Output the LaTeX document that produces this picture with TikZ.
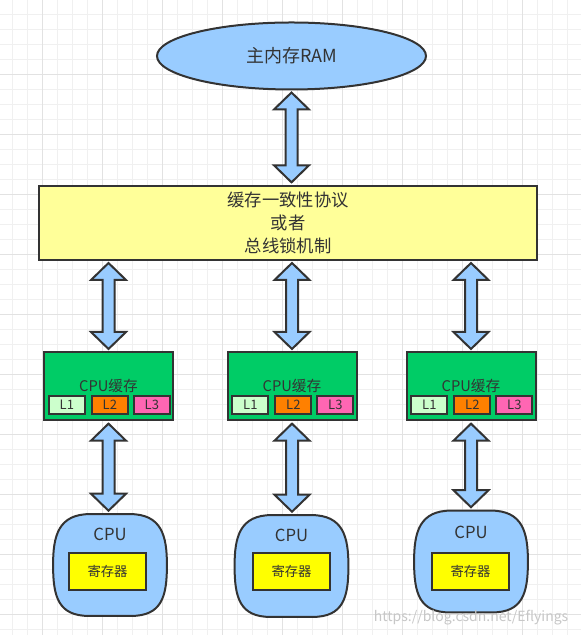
\documentclass[tikz,border=0pt]{standalone}
\usepackage{fontspec}
\setmainfont{Noto Sans CJK SC}
\usetikzlibrary{positioning,calc,shapes.geometric}

\definecolor{lineGray}{HTML}{333333}
\definecolor{gridMinor}{HTML}{F0F0F0}
\definecolor{gridMajor}{HTML}{E2E2E2}
\definecolor{skyBlue}{HTML}{99CCFF}
\definecolor{paleYellow}{HTML}{FFFF99}
\definecolor{cacheGreen}{HTML}{00CC66}
\definecolor{lOne}{HTML}{CCFFCC}
\definecolor{lTwo}{HTML}{FF8000}
\definecolor{lThree}{HTML}{FF66B3}
\definecolor{regYellow}{HTML}{FFFF00}

% fat two-headed arrow between two points with the same x
\newcommand\fatarrow[2]{%
  \draw[fat] (#1) -- ++(17.5,-17) -- ++(-11.5,0) -- ($(#2)+(6,17)$) -- ++(11.5,0) -- (#2)
    -- ++(-17.5,17) -- ++(11.5,0) -- ($(#1)+(-6,-17)$) -- ++(-11.5,0) -- cycle;}

\begin{document}
\begin{tikzpicture}[x=0.75pt,y=0.75pt]
        \tikzstyle{box}=[draw=lineGray, line width=1.5pt, inner sep=0pt, text=lineGray]
        \tikzstyle{fat}=[draw=lineGray, line width=1.5pt, fill=skyBlue, line join=miter]
        \tikzstyle{cache}=[box, fill=cacheGreen, minimum width=96.75pt, minimum height=51pt, font=\fontsize{11}{12}\selectfont]
        \tikzstyle{level box}=[box, minimum width=27pt, minimum height=13.5pt, font=\fontsize{9.75}{11}\selectfont]
        \tikzstyle{cpu}=[minimum width=85pt, minimum height=76pt, inner sep=0pt]
        \tikzstyle{cpuline}=[draw=lineGray, line width=1.5pt, fill=skyBlue]
        \tikzstyle{register}=[box, fill=regYellow, minimum width=57.75pt, minimum height=27.75pt, font=\fontsize{10}{11}\selectfont]
        \useasboundingbox (0,0) rectangle (581,635);
        \fill[white] (0,0) rectangle (581,635);
        % grid
        \foreach \x in {12.3,27.3,...,581} \draw[gridMinor, line width=0.75pt] (\x,0) -- (\x,635);
        \foreach \y in {5,20,...,635} \draw[gridMinor, line width=0.75pt] (0,\y) -- (581,\y);
        \foreach \x in {42.3,102.3,...,581} \draw[gridMajor, line width=0.75pt] (\x,0) -- (\x,635);
        \foreach \y in {20,80,...,560} \draw[gridMajor, line width=0.75pt] (0,\y) -- (581,\y);

        \node[ellipse, box, fill=skyBlue, minimum width=201.75pt, minimum height=50.25pt, font=\fontsize{13.5}{15}\selectfont] (ram) at (291.5,579) {主内存RAM};
        \node[box, fill=paleYellow, minimum width=373.5pt, minimum height=55.5pt, align=center, font=\fontsize{13}{17.25}\selectfont] (protocol) at (288,412) {缓存一致性协议\\或者\\总线锁机制};

        \node[cache] (cacheA) at (108.5,249) {CPU缓存};
        \node[cache] (cacheB) at (292,249) {CPU缓存};
        \node[cache] (cacheC) at (471,249) {CPU缓存};
        \foreach \c in {A,B,C} {
            \node[level box, fill=lTwo, above=4.5pt of cache\c.south, xshift=1pt] (l\c2) {L2};
            \node[level box, fill=lOne, left=3.75pt of l\c2] (l\c1) {L1};
            \node[level box, fill=lThree, right=3pt of l\c2] (l\c3) {L3};
        }

        \node[cpu] (cpuA) at (110,70) {};
        \node[cpu] (cpuB) at (291.5,69) {};
        \node[cpu] (cpuC) at (471,73.5) {};
        \foreach \c in {cpuA,cpuB,cpuC}
            \draw[cpuline] ([xshift=28pt]\c.north west) -- ([xshift=-28pt]\c.north east)
                .. controls ([xshift=-4pt]\c.north east) and ([yshift=22pt]\c.east) .. (\c.east)
                .. controls ([yshift=-24pt]\c.east) and ([xshift=-4pt]\c.south east) .. ([xshift=-27pt]\c.south east)
                -- ([xshift=27pt]\c.south west)
                .. controls ([xshift=4pt]\c.south west) and ([yshift=-24pt]\c.west) .. (\c.west)
                .. controls ([yshift=22pt]\c.west) and ([xshift=4pt]\c.north west) .. cycle;
        \node[text=lineGray, font=\fontsize{12.5}{14}\selectfont] (cpuTextA) at (110,101) {CPU};
        \node[text=lineGray, font=\fontsize{12.5}{14}\selectfont] (cpuTextB) at (291.5,100) {CPU};
        \node[text=lineGray, font=\fontsize{12.5}{14}\selectfont] (cpuTextC) at (471,103) {CPU};
        \node[register] (regA) at (107.5,63.5) {寄存器};
        \node[register] (regB) at (291.5,63.5) {寄存器};
        \node[register] (regC) at (470.5,63.5) {寄存器};

        % arrows
        \coordinate (ramDown) at ([yshift=-1.5pt]ram.south);
        \coordinate (protocolUp) at ([yshift=2pt]protocol.north -| ram.south);
        \fatarrow{ramDown}{protocolUp}
        \foreach \c in {A,B,C} {
            \coordinate (down\c) at ([yshift=-1.5pt]protocol.south -| cache\c.north);
            \coordinate (up\c) at ([yshift=1.5pt]cache\c.north);
            \fatarrow{down\c}{up\c}
            \coordinate (cacheDown\c) at ([yshift=-2pt]cache\c.south);
            \coordinate (cpuUp\c) at ([yshift=2.5pt]cpu\c.north -| cache\c.south);
            \fatarrow{cacheDown\c}{cpuUp\c}
        }

        \node[anchor=east, text=black!22, font=\fontsize{10.5}{12}\selectfont] (mark) at (573,17) {https://blog.csdn.net/Eflyings};
    \end{tikzpicture}
\end{document}
